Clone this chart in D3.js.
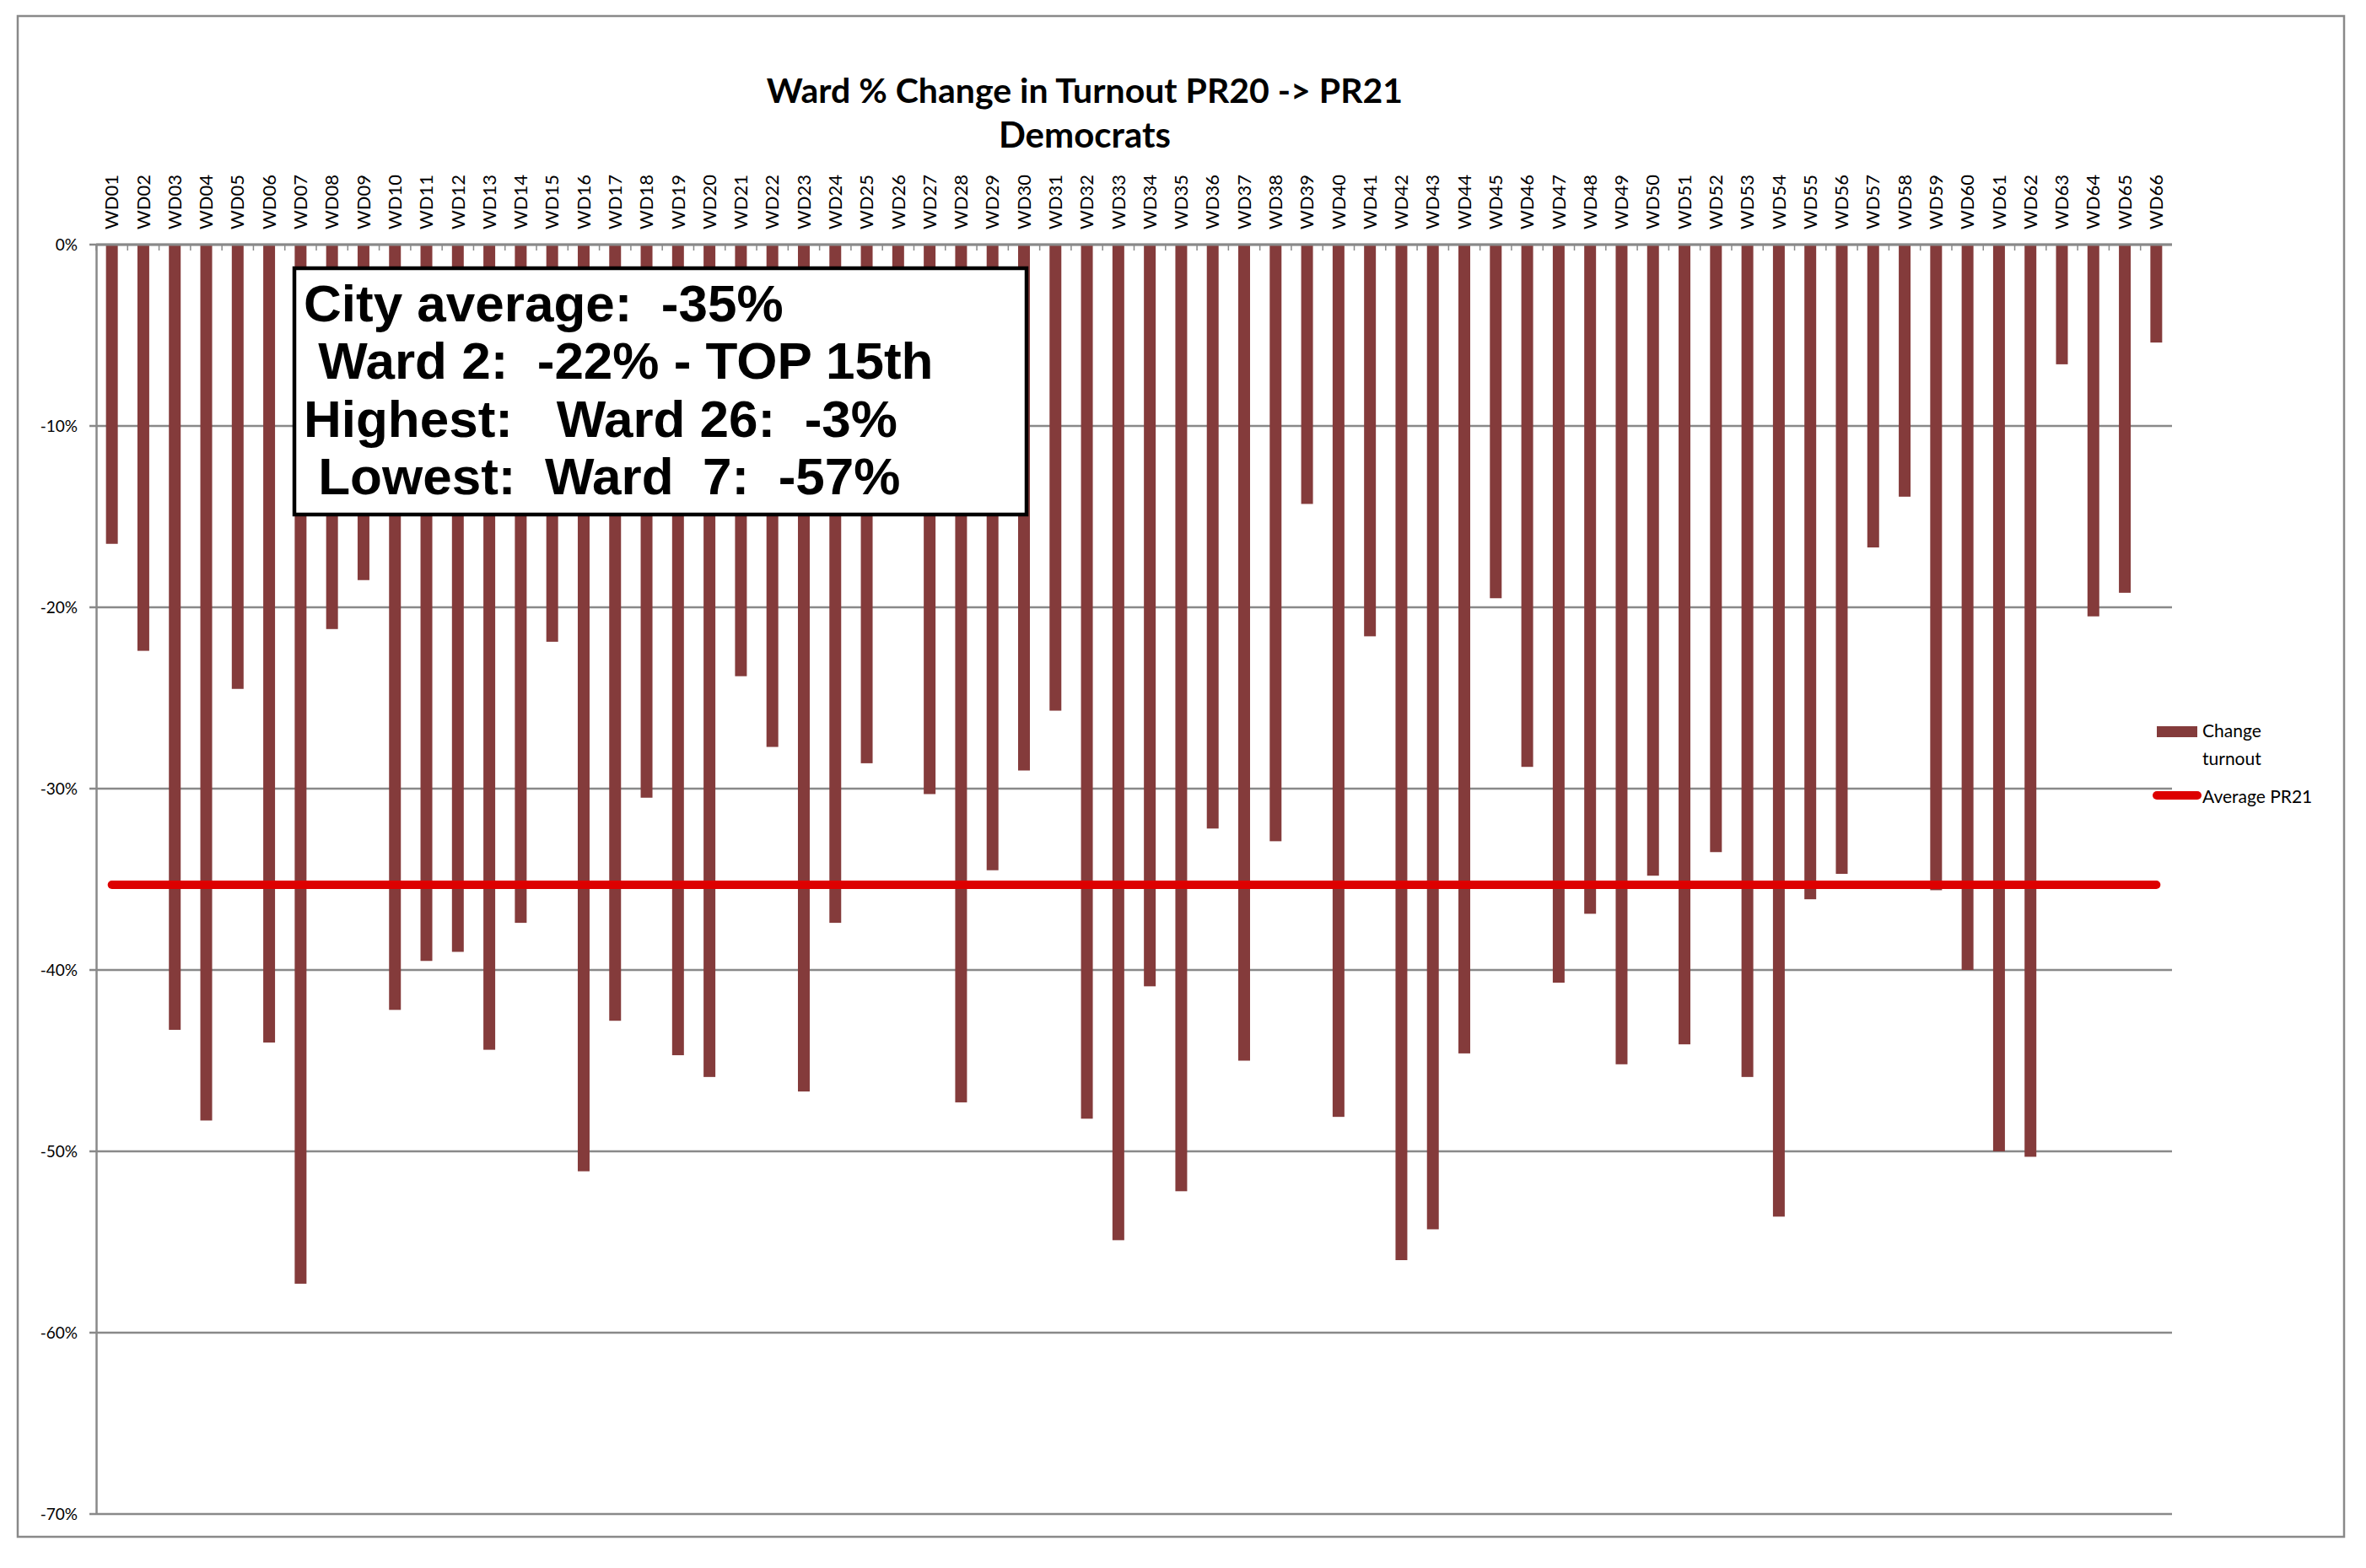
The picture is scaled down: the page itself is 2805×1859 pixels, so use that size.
<!DOCTYPE html>
<html>
<head>
<meta charset="utf-8">
<script src="https://cdn.jsdelivr.net/npm/d3@7"></script>
<style>
  body { margin: 0; background: #fff; }
</style>
</head>
<body>
<div id="chart-area"></div>
<script>
// data (percent change in turnout)
const wards = ["WD01","WD02","WD03","WD04","WD05","WD06","WD07","WD08","WD09","WD10",
  "WD11","WD12","WD13","WD14","WD15","WD16","WD17","WD18","WD19","WD20",
  "WD21","WD22","WD23","WD24","WD25","WD26","WD27","WD28","WD29","WD30",
  "WD31","WD32","WD33","WD34","WD35","WD36","WD37","WD38","WD39","WD40",
  "WD41","WD42","WD43","WD44","WD45","WD46","WD47","WD48","WD49","WD50",
  "WD51","WD52","WD53","WD54","WD55","WD56","WD57","WD58","WD59","WD60",
  "WD61","WD62","WD63","WD64","WD65","WD66"];
const change = [-16.5,-22.4,-43.3,-48.3,-24.5,-44.0,-57.3,-21.2,-18.5,-42.2,
  -39.5,-39.0,-44.4,-37.4,-21.9,-51.1,-42.8,-30.5,-44.7,-45.9,
  -23.8,-27.7,-46.7,-37.4,-28.6,-3.0,-30.3,-47.3,-34.5,-29.0,
  -25.7,-48.2,-54.9,-40.9,-52.2,-32.2,-45.0,-32.9,-14.3,-48.1,
  -21.6,-56.0,-54.3,-44.6,-19.5,-28.8,-40.7,-36.9,-45.2,-34.8,
  -44.1,-33.5,-45.9,-53.6,-36.1,-34.7,-16.7,-13.9,-35.6,-40.0,
  -50.0,-50.3,-6.6,-20.5,-19.2,-5.4];
const averagePR21 = -35.3;
const yTicks = [0,-10,-20,-30,-40,-50,-60,-70];
const titleLines = ["Ward % Change in Turnout PR20 -> PR21", "Democrats"];
const legendNames = ["Change turnout", "Average PR21"];
const noteLines = ["City average:  -35%", " Ward 2:  -22% - TOP 15th", "Highest:   Ward 26:  -3%", " Lowest:  Ward  7:  -57%"];

const W = 2805, H = 1859;
const barColour = "#843b3b", avgColour = "#dd0000", gridColour = "#898989";
const calibri = "Lato, 'Open Sans', sans-serif";

const svg = d3.select("#chart-area")
  .append("svg")
  .attr("width", W)
  .attr("height", H);

// chart border
svg.append("rect")
  .attr("x", 21).attr("y", 19)
  .attr("width", 2758).attr("height", 1803)
  .attr("fill", "#fff")
  .attr("stroke", gridColour)
  .attr("stroke-width", 2.5);

const x = d3.scaleBand()
  .domain(wards)
  .range([114, 2575])
  .paddingInner(0.625)
  .paddingOuter(0.3125);
const y = d3.scaleLinear()
  .domain([0, -70])
  .range([290, 1795]);

// gridlines + outside ticks
svg.append("g")
  .selectAll("line")
  .data(yTicks)
  .enter().append("line")
    .attr("x1", 106).attr("x2", 2575)
    .attr("y1", d => y(d)).attr("y2", d => y(d))
    .attr("stroke", gridColour)
    .attr("stroke-width", 2.5);

// y axis
const y_axis = d3.axisLeft(y)
  .tickValues(yTicks)
  .tickSize(0)
  .tickPadding(22)
  .tickFormat(d => d + "%");
const gy = svg.append("g")
  .attr("transform", "translate(114,0)")
  .call(y_axis);
gy.select(".domain").attr("stroke", gridColour).attr("stroke-width", 2.5);
gy.selectAll("text")
  .attr("font-family", calibri)
  .attr("font-size", "19px")
  .attr("fill", "#000");

// bars
svg.append("g")
  .selectAll("rect")
  .data(wards)
  .enter().append("rect")
    .attr("x", d => x(d))
    .attr("width", x.bandwidth())
    .attr("y", y(0))
    .attr("height", (d, i) => y(change[i]) - y(0))
    .attr("fill", barColour);

// category axis along 0%
const half = (x.step() - x.bandwidth()) / 2;
svg.append("g")
  .selectAll("line")
  .data(wards)
  .enter().append("line")
    .attr("x1", d => x(d) - half).attr("x2", d => x(d) - half)
    .attr("y1", y(0)).attr("y2", y(0) + 7)
    .attr("stroke", gridColour)
    .attr("stroke-width", 1.5);
svg.append("line")
  .attr("x1", 114).attr("x2", 2575)
  .attr("y1", y(0)).attr("y2", y(0))
  .attr("stroke", gridColour)
  .attr("stroke-width", 3);

svg.append("g")
  .selectAll("text")
  .data(wards)
  .enter().append("text")
    .attr("transform", d => "translate(" + (x(d) + x.bandwidth() / 2) + "," + (y(0) - 18) + ") rotate(-90)")
    .attr("dy", "0.35em")
    .attr("font-family", calibri)
    .attr("font-size", "22px")
    .text(d => d);

// average line
const avgLine = d3.line()
  .x(d => x(d) + x.bandwidth() / 2)
  .y(() => y(averagePR21));
svg.append("path")
  .attr("d", avgLine(wards))
  .attr("fill", "none")
  .attr("stroke", avgColour)
  .attr("stroke-width", 10)
  .attr("stroke-linecap", "round");

// title
svg.append("g")
  .selectAll("text")
  .data(titleLines)
  .enter().append("text")
    .attr("x", 1286)
    .attr("y", (d, i) => 122 + i * 53)
    .attr("text-anchor", "middle")
    .attr("font-family", calibri)
    .attr("font-weight", "bold")
    .attr("font-size", (d, i) => i === 0 ? "41px" : "42px")
    .text(d => d);

// legend
const lg = svg.append("g");
lg.append("rect")
  .attr("x", 2557).attr("y", 861)
  .attr("width", 48).attr("height", 13)
  .attr("fill", barColour);
lg.append("text")
  .attr("x", 2611).attr("y", 874)
  .attr("font-family", calibri).attr("font-size", "21px")
  .text(legendNames[0].split(" ")[0]);
lg.append("text")
  .attr("x", 2611).attr("y", 907)
  .attr("font-family", calibri).attr("font-size", "21px")
  .text(legendNames[0].split(" ")[1]);
lg.append("line")
  .attr("x1", 2557).attr("x2", 2605)
  .attr("y1", 943).attr("y2", 943)
  .attr("stroke", avgColour)
  .attr("stroke-width", 10)
  .attr("stroke-linecap", "round");
lg.append("text")
  .attr("x", 2611).attr("y", 952)
  .attr("font-family", calibri).attr("font-size", "21px")
  .text(legendNames[1]);

// note box
svg.append("rect")
  .attr("x", 349).attr("y", 318)
  .attr("width", 868).attr("height", 292)
  .attr("fill", "#fff")
  .attr("stroke", "#000")
  .attr("stroke-width", 4.5);
svg.append("g")
  .selectAll("text")
  .data(noteLines)
  .enter().append("text")
    .attr("x", 360)
    .attr("y", (d, i) => 381 + i * 68.3)
    .attr("font-family", "'Liberation Sans', Arial, sans-serif")
    .attr("font-weight", "bold")
    .attr("font-size", "62px")
    .style("white-space", "pre")
    .text(d => d);
</script>
</body>
</html>
